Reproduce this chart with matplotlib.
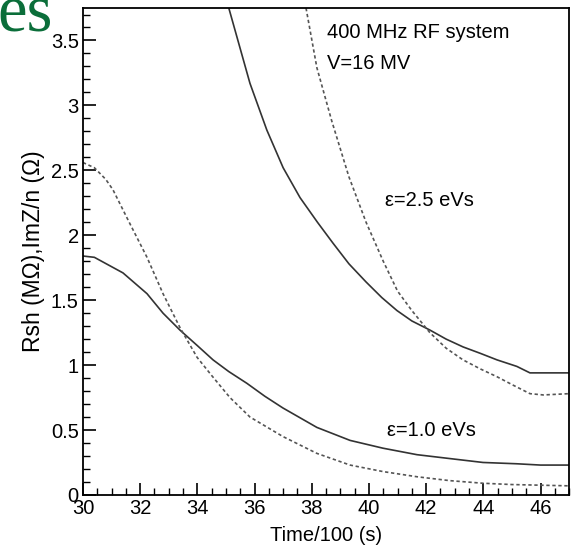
import matplotlib
matplotlib.use("Agg")
import matplotlib.pyplot as plt
from matplotlib.ticker import MultipleLocator

plt.rcParams['font.family'] = ['Liberation Sans', 'DejaVu Sans']

# eps = 1.0 eVs
t_low_solid = [30, 30.4, 31.4, 32.24, 32.8, 33.39, 34.0, 34.55, 35.1, 35.73, 36.36, 36.99,
               38.18, 39.34, 40.49, 41.68, 42.83, 43.99, 45.17, 46, 47]
v_low_solid = [1.84, 1.83, 1.71, 1.55, 1.40, 1.27, 1.15, 1.04, 0.95, 0.86, 0.76, 0.67,
               0.52, 0.42, 0.36, 0.31, 0.28, 0.25, 0.24, 0.23, 0.23]
t_low_dash = [30, 30.4, 30.8, 31.05, 31.64, 32.24, 32.8, 33.39, 33.99, 34.5, 35.14, 35.84,
              36.99, 38.18, 39.34, 40.49, 41.68, 42.83, 43.99, 45.0, 46, 47]
v_low_dash = [2.56, 2.52, 2.43, 2.35, 2.09, 1.83, 1.55, 1.29, 1.06, 0.92, 0.75, 0.60,
              0.45, 0.32, 0.23, 0.18, 0.14, 0.11, 0.09, 0.08, 0.075, 0.07]
# eps = 2.5 eVs
t_up_solid = [35.1, 35.84, 36.43, 37.0, 37.59, 38.2, 38.74, 39.3, 39.9, 40.45, 40.98, 41.5,
              42.13, 42.7, 43.29, 43.9, 44.48, 45.17, 45.63, 46.1, 47]
v_up_solid = [3.75, 3.17, 2.81, 2.52, 2.29, 2.10, 1.94, 1.78, 1.64, 1.52, 1.42, 1.34,
              1.27, 1.20, 1.14, 1.09, 1.04, 0.99, 0.94, 0.94, 0.94]
t_up_dash = [37.8, 38.18, 38.7, 39.3, 39.9, 40.5, 41.0, 41.5, 42.13, 42.7, 43.29, 43.9,
             44.48, 45.0, 45.63, 46.1, 47]
v_up_dash = [3.75, 3.29, 2.88, 2.45, 2.10, 1.80, 1.57, 1.42, 1.25, 1.13, 1.04, 0.97,
             0.91, 0.85, 0.78, 0.77, 0.78]

fig = plt.figure(figsize=(5.72, 5.53), dpi=100)
ax = fig.add_axes([0.145, 0.105, 0.85, 0.8805])

solid_kw = dict(color='#333333', lw=1.2, solid_capstyle='butt', solid_joinstyle='round')
dash_kw = dict(color='#555555', lw=1.2, linestyle=(0, (2, 1.6)))
ax.plot(t_low_solid, v_low_solid, **solid_kw)
ax.plot(t_low_dash, v_low_dash, **dash_kw)
ax.plot(t_up_solid, v_up_solid, **solid_kw)
ax.plot(t_up_dash, v_up_dash, **dash_kw)

ax.set_xlim(30, 47)
ax.set_ylim(0, 3.75)
ax.xaxis.set_major_locator(MultipleLocator(2))
ax.xaxis.set_minor_locator(MultipleLocator(0.5))
ax.yaxis.set_minor_locator(MultipleLocator(0.1))
ax.set_yticks([0, 0.5, 1, 1.5, 2, 2.5, 3, 3.5])
ax.set_yticklabels(['0', '0.5', '1', '1.5', '2', '2.5', '3', '3.5'])
ax.tick_params(which='major', direction='in', length=9, width=1.2, labelsize=14.5, pad=3)
ax.tick_params(which='minor', direction='in', length=5, width=1.0)
for s in ax.spines.values():
    s.set_linewidth(1.3)

ax.set_xlabel('Time/100 (s)', fontsize=14.5, labelpad=6)
ax.set_ylabel('Rsh (M\u03a9),ImZ/n (\u03a9)', fontsize=16.5, labelpad=4)

ax.text(38.53, 3.56, '400 MHz RF system', fontsize=14.5, va='center', ha='left')
ax.text(38.53, 3.32, 'V=16 MV', fontsize=14.5, va='center', ha='left')
ax.text(40.56, 2.27, '\u03b5=2.5 eVs', fontsize=14.5, va='center', ha='left')
ax.text(40.63, 0.50, '\u03b5=1.0 eVs', fontsize=14.5, va='center', ha='left')

fig.text(-0.005, 0.944, 'es', fontsize=48, family='Liberation Serif',
         color='#0b6e3a', ha='left', va='baseline')

fig.savefig('out.png', dpi=100)
